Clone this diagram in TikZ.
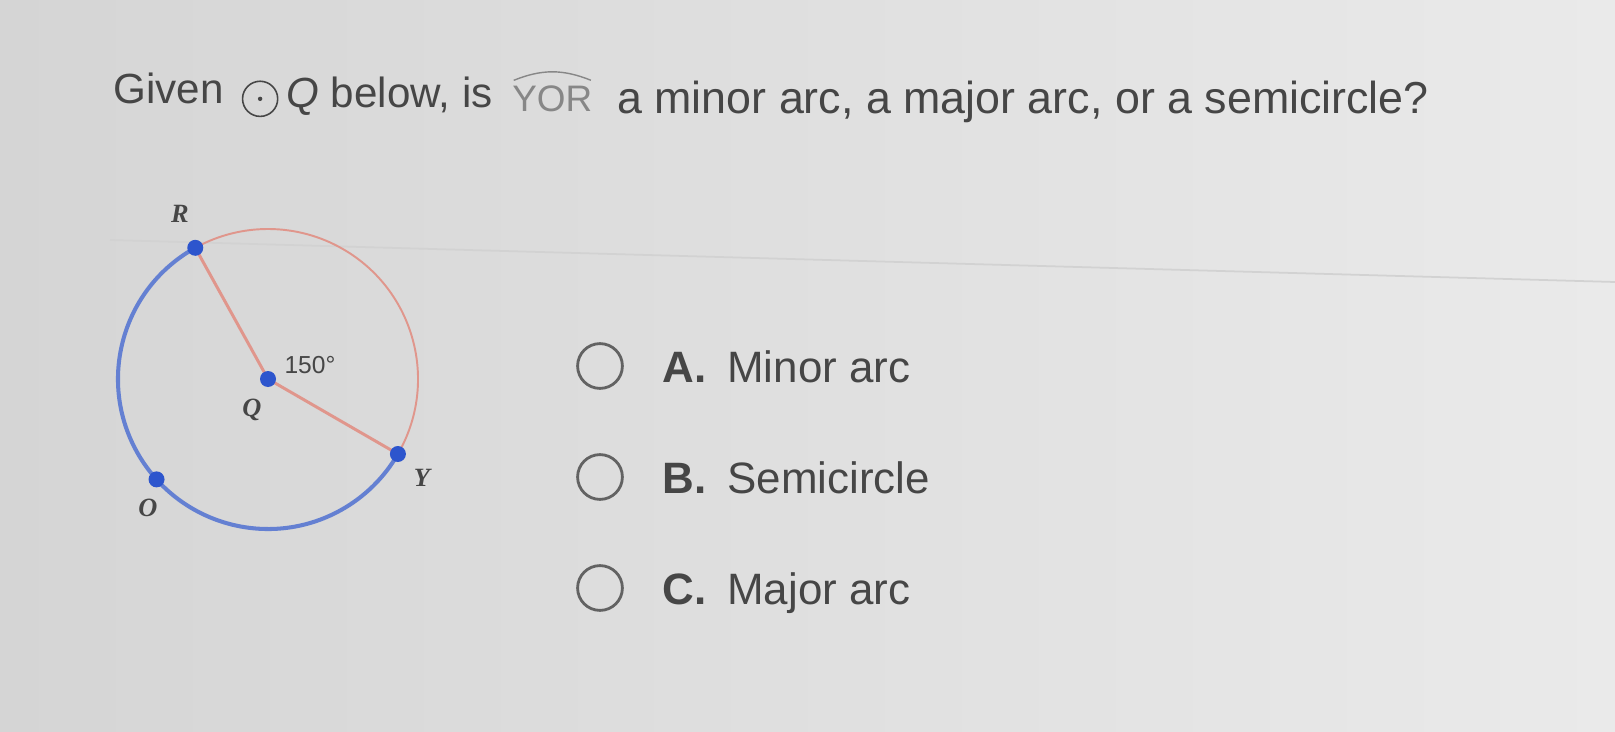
\documentclass[tikz,border=0pt]{standalone}
\usepackage{fontspec}
\setmainfont{Liberation Sans}
\newfontfamily\ptfont{Liberation Serif}
\definecolor{bgleft}{RGB}{213,213,213}
\definecolor{bgright}{RGB}{234,234,234}
\definecolor{inkgray}{RGB}{70,70,70}
\definecolor{arcblue}{RGB}{100,128,210}
\definecolor{dotblue}{RGB}{45,85,205}
\definecolor{arcpink}{RGB}{224,150,140}
\tikzset{
    qtext/.style={inner sep=0pt, anchor=base west, text=inkgray, font=\fontsize{24}{28}\selectfont},
    opttext/.style={inner sep=0pt, anchor=base west, text=inkgray, font=\fontsize{25}{29}\selectfont},
    radio/.style={circle, draw=inkgray!85, line width=1.6pt, minimum size=25.5pt, inner sep=0pt},
    ptlabel/.style={inner sep=0pt, text=inkgray, font=\ptfont\bfseries\itshape\fontsize{15}{18}\selectfont},
    ptdot/.style={fill=dotblue},
}
\begin{document}
\begin{tikzpicture}[x=0.02cm, y=0.02cm]
        \useasboundingbox (0,0) rectangle (1615,731);
        \shade[left color=bgleft, right color=bgright] (0,0) rectangle (1615,731);
        \draw[line width=1pt, gray!35] (110,491) -- (1615,449);
        % question
        \begin{scope}[rotate around={-1.1:(113,627)}]
            \node[qtext] (given) at (113,627) {Given};
            \node[circle, draw=inkgray, line width=0.9pt, minimum size=20pt, inner sep=0pt] (odot) at (260,635) {};
            \fill[inkgray] (odot.center) circle (2.2);
            \node[qtext] (below) at (286,627) {\textit{Q} below, is};
            \node[qtext, text=inkgray!65, font=\fontsize{21}{25}\selectfont] (yor) at (512,627) {YOR};
            \draw[inkgray!65, line width=0.8pt] ([xshift=1, yshift=3]yor.north west) to[bend left=22] ([xshift=-1, yshift=3]yor.north east);
            \node[qtext, font=\fontsize{25.5}{30}\selectfont] (rest) at (617,627) {a minor arc, a major arc, or a semicircle?};
        \end{scope}
        % circle Q
        \coordinate (Q) at (268,352);
        \path (Q) ++(119:150) coordinate (R);
        \path (Q) ++(-30:150) coordinate (Y);
        \path (Q) ++(222:150) coordinate (O);
        \draw[arcpink, line width=1.1pt] (Y) arc (-30:119:150);
        \draw[arcblue, line width=2.3pt] (R) arc (119:330:150);
        \draw[arcpink, line width=1.7pt] (R) -- (Q) -- (Y);
        \foreach \p in {R, Q, Y, O}
            \fill[ptdot] (\p) circle (8);
        \node[ptlabel] (labR) at (180,517) {R};
        \node[ptlabel] (labQ) at (252,321) {Q};
        \node[ptlabel] (labO) at (148,223) {O};
        \node[ptlabel] (labY) at (422,253) {Y};
        \node[inner sep=0pt, text=inkgray, font=\fontsize{14}{17}\selectfont] (ang) at (310,366) {150°};
        % answer choices
        \foreach \l/\t/\y [count=\i] in {A/Minor arc/365, B/Semicircle/254, C/Major arc/143} {
            \node[radio] (radio\i) at (600,\y) {};
            \node[opttext, font=\bfseries\fontsize{25}{29}\selectfont] (let\i) at (662,\y-16) {\l.};
            \node[opttext] (ans\i) at (727,\y-16) {\t};
        }
    \end{tikzpicture}
\end{document}
